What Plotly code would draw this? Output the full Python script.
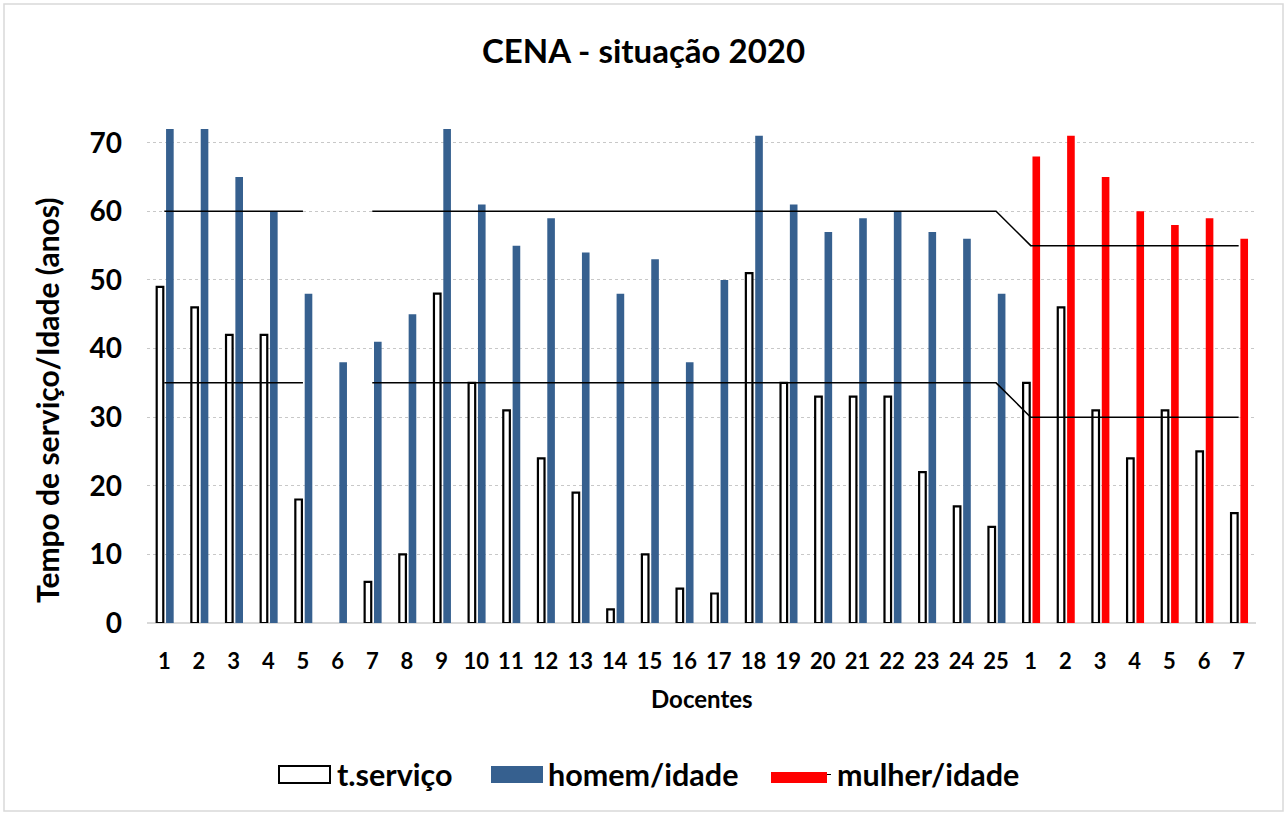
import plotly.graph_objects as go

# ---- data ----
categorias = [str(i) for i in range(1, 26)] + [str(i) for i in range(1, 8)]
t_servico = [49, 46, 42, 42, 18, None, 6, 10, 48, 35, 31, 24, 19, 2, 10, 5, 4.3, 51, 35, 33, 33, 33, 22, 17, 14,
             35, 46, 31, 24, 31, 25, 16]
homem_idade = [74, 74, 65, 60, 48, 38, 41, 45, 74, 61, 55, 59, 54, 48, 53, 38, 50, 71, 61, 57, 59, 60, 57, 56, 48]
mulher_idade = [68, 71, 65, 60, 58, 59, 56]
limite_idade = [60, 60, 60, 60, 60, None, 60, 60, 60, 60, 60, 60, 60, 60, 60, 60, 60, 60, 60, 60, 60, 60, 60, 60, 60,
                55, 55, 55, 55, 55, 55, 55]
limite_servico = [35, 35, 35, 35, 35, None, 35, 35, 35, 35, 35, 35, 35, 35, 35, 35, 35, 35, 35, 35, 35, 35, 35, 35, 35,
                  30, 30, 30, 30, 30, 30, 30]
y_ticks = [0, 10, 20, 30, 40, 50, 60, 70]

# ---- layout geometry ----
W, H = 1287, 814
L, R, T, B = 147, 31, 129, 191
PW, PH = W - L - R, H - T - B
FONT = "Lato"
BLUE = "#36608F"
RED = "#FF0000"

def px(xp):
    return (xp - L) / PW

def py(yp):
    return (H - B - yp) / PH

n = len(categorias)
xs = list(range(n))
n_h = len(homem_idade)

fig = go.Figure()

fig.add_trace(go.Bar(
    x=xs, y=t_servico, name="t.serviço",
    marker=dict(color="white", line=dict(color="black", width=2.2)),
    offset=-0.22, width=0.19, showlegend=False, hoverinfo="y"))

fig.add_trace(go.Bar(
    x=xs[:n_h], y=homem_idade, name="homem/idade",
    marker=dict(color=BLUE, line=dict(width=0)),
    offset=0.05, width=0.22, showlegend=False))

fig.add_trace(go.Bar(
    x=xs[n_h:], y=mulher_idade, name="mulher/idade",
    marker=dict(color=RED, line=dict(width=0)),
    offset=0.05, width=0.22, showlegend=False))

for lim in (limite_idade, limite_servico):
    fig.add_trace(go.Scatter(
        x=xs, y=lim, mode="lines", connectgaps=False,
        line=dict(color="black", width=1.5), showlegend=False, hoverinfo="skip"))

fig.update_layout(
    width=W, height=H,
    margin=dict(l=L, r=R, t=T, b=B),
    paper_bgcolor="white", plot_bgcolor="white",
    barmode="overlay",
    font=dict(family=FONT, color="black"),
    showlegend=False,
)

fig.update_xaxes(
    range=[-0.5, n - 0.5],
    tickmode="array", tickvals=xs, ticktext=categorias,
    tickfont=dict(family=FONT, size=22, weight="bold", color="black"),
    ticks="", ticklabelstandoff=23,
    showgrid=False, showline=False, zeroline=False,
)
fig.update_yaxes(
    range=[0, 72],
    tickmode="array", tickvals=y_ticks,
    tickfont=dict(family=FONT, size=28, weight="bold", color="black"),
    ticks="", ticklabelstandoff=24,
    showgrid=True, gridcolor="#C8C8C8", gridwidth=1, griddash="dot",
    zeroline=True, zerolinecolor="#D9D9D9", zerolinewidth=2,
    showline=False,
)

annotations = [
    dict(text="CENA - situação 2020", x=px(643), y=py(50), xref="paper", yref="paper",
         showarrow=False, xanchor="center", yanchor="middle",
         font=dict(family=FONT, size=33, weight="bold", color="black")),
    dict(text="Tempo de serviço/Idade (anos)", x=px(47), y=py(400), xref="paper", yref="paper",
         showarrow=False, xanchor="center", yanchor="middle", textangle=-90,
         font=dict(family=FONT, size=30, weight="bold", color="black")),
    dict(text="Docentes", x=px(702), y=py(698), xref="paper", yref="paper",
         showarrow=False, xanchor="center", yanchor="middle",
         font=dict(family=FONT, size=24, weight="bold", color="black")),
]
legend_items = [("t.serviço", 335), ("homem/idade", 546), ("mulher/idade", 835)]
for txt, x0 in legend_items:
    annotations.append(dict(text=txt, x=px(x0), y=py(774), xref="paper", yref="paper",
                            showarrow=False, xanchor="left", yanchor="middle",
                            font=dict(family=FONT, size=30.5, weight="bold", color="black")))

shapes = [
    # outer chart border
    dict(type="rect", xref="paper", yref="paper", x0=px(4), x1=px(1283), y0=py(4), y1=py(811),
         line=dict(color="#D9D9D9", width=1.5), fillcolor="rgba(0,0,0,0)", layer="below"),
    # legend symbols
    dict(type="rect", xref="paper", yref="paper", x0=px(279), x1=px(330), y0=py(766), y1=py(783),
         line=dict(color="black", width=2), fillcolor="white"),
    dict(type="rect", xref="paper", yref="paper", x0=px(491), x1=px(543), y0=py(766), y1=py(783),
         line=dict(width=0), fillcolor=BLUE),
    dict(type="line", xref="paper", yref="paper", x0=px(771), x1=px(831), y0=py(774.5), y1=py(774.5),
         line=dict(color="black", width=1.2)),
    dict(type="rect", xref="paper", yref="paper", x0=px(771), x1=px(827), y0=py(772), y1=py(783),
         line=dict(width=0), fillcolor=RED),
]

fig.update_layout(annotations=annotations, shapes=shapes)

fig.write_html(
    "out.html",
    config={"displayModeBar": False},
    post_script="document.body.style.margin='0';document.body.style.overflow='hidden';",
)
